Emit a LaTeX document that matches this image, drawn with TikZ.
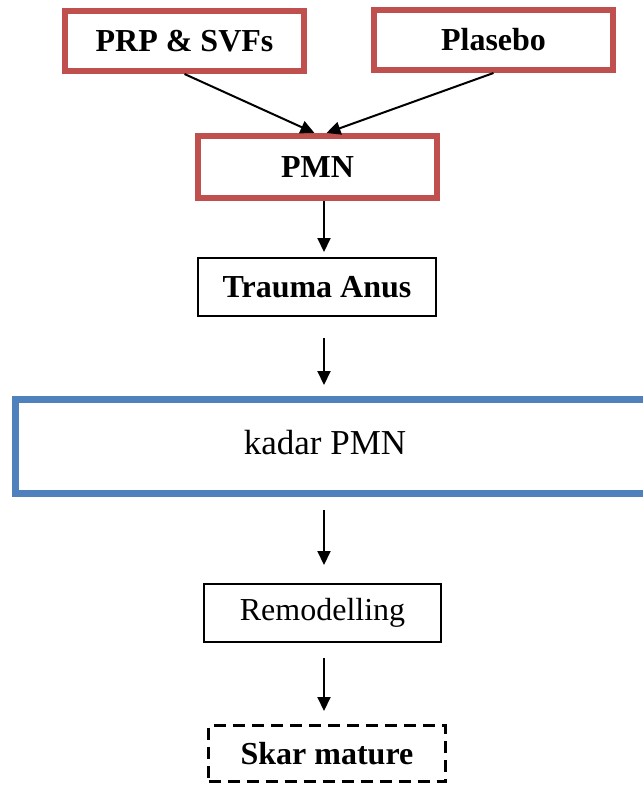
\documentclass[tikz,border=0pt]{standalone}
\usepackage{fontspec}
\setmainfont{Liberation Serif}
\usetikzlibrary{arrows.meta}
\definecolor{boxred}{HTML}{C0504D}
\definecolor{boxblue}{HTML}{4F81BD}

\begin{document}
\begin{tikzpicture}[x=1pt, y=-1pt,
redbox/.style={rectangle, draw=boxred, line width=6pt, minimum width=239pt, minimum height=60pt, inner sep=0pt, font=\fontsize{32}{38}\selectfont\bfseries},
plainbox/.style={rectangle, draw=black, line width=2pt, minimum width=238pt, minimum height=58pt, inner sep=0pt, font=\fontsize{32}{38}\selectfont},
bluebox/.style={rectangle, draw=boxblue, line width=7pt, minimum width=635pt, minimum height=94pt, inner sep=0pt, font=\fontsize{35}{41}\selectfont},
dashbox/.style={rectangle, draw=black, line width=3pt, dash pattern=on 12pt off 7pt, minimum width=237pt, minimum height=56pt, inner sep=0pt, font=\fontsize{32}{38}\selectfont\bfseries},
flowarrow/.style={draw=black, line width=2pt, -{Triangle[length=14pt, width=13pt]}}
]
    \useasboundingbox (0,0) rectangle (643,785);

    \node [redbox] (prp) at (184.5,41) {PRP \& SVFs};
    \node [redbox] (plasebo) at (493.5,40) {Plasebo};

    \node [redbox, minimum height=62pt] (pmn) at (317.5,167) {PMN};
    \node [plainbox, font=\fontsize{32}{38}\selectfont\bfseries] (trauma) at (317,287) {Trauma Anus};

    \node [bluebox] (kadar) at (333,446.5) {\raisebox{9pt}{kadar PMN\hspace*{16pt}}};

    \node [plainbox, minimum width=237pt] (remodel) at (322.5,613) {Remodelling};
    \node [dashbox] (skar) at (327,753.5) {Skar mature};

    \coordinate (axis) at (324,0);

    \draw [flowarrow] (prp.south) -- ([xshift=-3pt]pmn.north);
    \draw [flowarrow] (plasebo.south) -- ([xshift=9pt]pmn.north);
    \draw [flowarrow, shorten >=5pt] (pmn.south -| axis) -- (trauma.north -| axis);
    \draw [flowarrow, shorten <=21pt, shorten >=11pt] (trauma.south -| axis) -- (kadar.north -| axis);
    \draw [flowarrow, shorten <=13pt, shorten >=18pt] (kadar.south -| axis) -- (remodel.north -| axis);
    \draw [flowarrow, shorten <=15pt, shorten >=13pt] (remodel.south -| axis) -- (skar.north -| axis);
\end{tikzpicture}
\end{document}
